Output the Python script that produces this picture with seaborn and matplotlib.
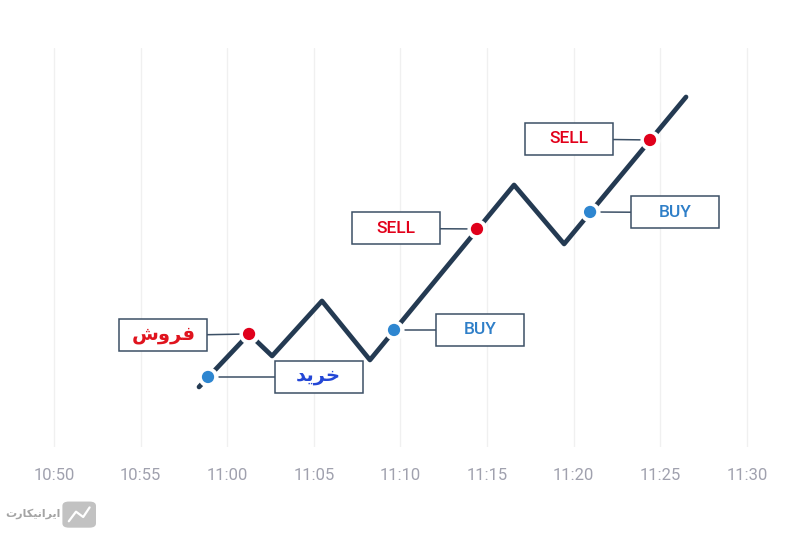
import matplotlib
matplotlib.use("Agg")
import matplotlib.pyplot as plt
import seaborn as sns
import pandas as pd
from matplotlib.patches import Rectangle, FancyBboxPatch
from matplotlib.lines import Line2D

# price path (minutes after 10:50, price units)
path_min = [8.37, 11.26, 12.59, 15.47, 18.24, 26.56, 29.45, 36.49]
path_price = [7.3, 12.6, 10.4, 15.9, 10.0, 27.5, 21.6, 36.3]

# signal points
sig_min = [8.89, 11.26, 19.63, 24.42, 30.95, 34.41]
sig_price = [8.3, 12.6, 13.0, 23.1, 24.8, 32.0]
sig_kind = ["buy", "sell", "buy", "sell", "buy", "sell"]

# label boxes (centre) for each signal
box_min = [15.27, 6.32, 24.60, 19.75, 35.88, 29.73]
box_price = [8.3, 12.45, 13.0, 23.15, 24.75, 32.1]
# Persian labels written in presentation forms, visual order (خرید / فروش)
box_text = ["\uFEAA\uFBFE\uFEAE\uFEA7", "\uFEB5\uFEED\uFEAE\uFED3", "BUY", "SELL", "BUY", "SELL"]
box_color = ["#2447d6", "#e0141e", "#2f7fc8", "#e2001a", "#2f7fc8", "#e2001a"]

tick_min = [0, 5, 10, 15, 20, 25, 30, 35, 40]
tick_labels = ["10:50", "10:55", "11:00", "11:05", "11:10", "11:15", "11:20", "11:25", "11:30"]

line_df = pd.DataFrame({"t": path_min, "p": path_price})
sig_df = pd.DataFrame({"t": sig_min, "p": sig_price, "kind": sig_kind})

sns.set_style("white")
plt.rcParams["font.family"] = ["Roboto", "DejaVu Sans"]

fig = plt.figure(figsize=(8, 5.33), dpi=100)
ax = fig.add_axes([0, 0.1614, 1, 0.7486])

sns.lineplot(data=line_df, x="t", y="p", color="#243a52", linewidth=3.4,
             sort=False, ax=ax, zorder=2)

# connectors from boxes to dots
for bt, bp, st, sp in zip(box_min, box_price, sig_min, sig_price):
    ax.plot([bt, st], [bp, sp], color="#3c5066", linewidth=1.1, zorder=2)

# white halo that cuts the line around the dots
sns.scatterplot(data=sig_df, x="t", y="p", s=210, color="white",
                linewidth=0, ax=ax, zorder=3, legend=False)
sns.scatterplot(data=sig_df, x="t", y="p", hue="kind",
                palette={"buy": "#2e86d0", "sell": "#e0001b"},
                s=78, linewidth=0, ax=ax, zorder=4, legend=False)

bw, bh = 88 / 17.32, 3.2
for bt, bp, txt, col in zip(box_min, box_price, box_text, box_color):
    ax.add_patch(Rectangle((bt - bw / 2, bp - bh / 2), bw, bh, facecolor="white",
                           edgecolor="#3c5066", linewidth=1.1, zorder=5))
    if txt.isascii():
        ax.text(bt, bp, txt, color=col, fontsize=12.5, fontweight="medium",
                ha="center", va="center", family=["Roboto", "DejaVu Sans"], zorder=6)
    else:
        ax.text(bt, bp + 0.1, txt, color=col, fontsize=14, fontweight="bold",
                ha="center", va="center", family=["DejaVu Sans"], zorder=6)

ax.set_xlim(-3.12, 43.07)
ax.set_ylim(1.3, 41.2)
ax.set_xticks(tick_min)
ax.set_xticklabels(tick_labels)
ax.set_yticks([])
ax.set_xlabel("")
ax.set_ylabel("")
ax.grid(axis="x", color="#f0f0f0", linewidth=1)
ax.tick_params(axis="x", length=0, pad=15, labelsize=12, labelcolor="#a0a1ae")
for s in ax.spines.values():
    s.set_visible(False)

# watermark (ایرانیکارت)
fig.text(0.006, 0.03, "\uFE95\uFEAD\uFE8E\uFB91\uFBFF\uFEE7\uFE8D\uFEAE\uFBFE\uFE8D",
         fontsize=8, fontweight="bold", color="#a4a4a4", family=["DejaVu Sans"])
fig.patches.append(FancyBboxPatch((0.080, 0.012), 0.038, 0.045,
                                  boxstyle="round,pad=0.002,rounding_size=0.008",
                                  transform=fig.transFigure, facecolor="#c2c2c2",
                                  edgecolor="none"))
fig.lines.append(Line2D([0.086, 0.095, 0.104, 0.112], [0.022, 0.040, 0.030, 0.048],
                        transform=fig.transFigure, color="white", linewidth=1.6))

fig.savefig("out.png", dpi=100)
